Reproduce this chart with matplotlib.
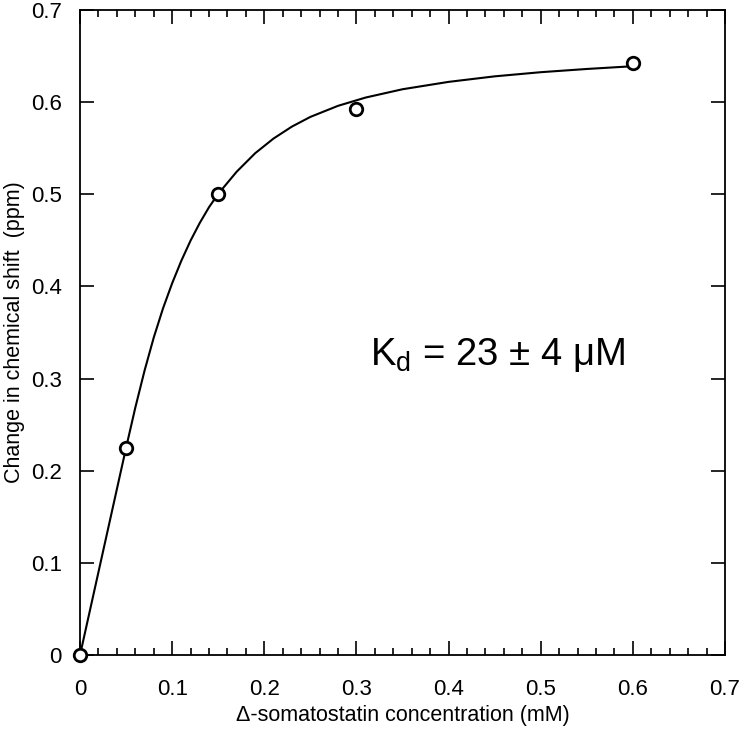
import matplotlib
matplotlib.use("Agg")
import matplotlib.pyplot as plt
from matplotlib.ticker import MultipleLocator

plt.rcParams['font.family'] = ['Liberation Sans', 'DejaVu Sans']

# measured titration points
conc = [0.0, 0.05, 0.15, 0.30, 0.60]
shift = [0.0, 0.225, 0.500, 0.593, 0.643]

# fitted curve
fit_x = [0.0, 0.01, 0.02, 0.03, 0.04, 0.05, 0.06, 0.07, 0.08, 0.09, 0.10,
         0.11, 0.12, 0.13, 0.14, 0.15, 0.17, 0.19, 0.21, 0.23, 0.25, 0.28,
         0.31, 0.35, 0.40, 0.45, 0.50, 0.55, 0.60]
fit_y = [0.0, 0.045, 0.090, 0.135, 0.180, 0.225, 0.2685, 0.3085, 0.3445,
         0.376, 0.4035, 0.428, 0.4498, 0.469, 0.486, 0.5005, 0.5245, 0.5445,
         0.5605, 0.5735, 0.584, 0.596, 0.605, 0.614, 0.622, 0.628, 0.6325,
         0.636, 0.639]

fig = plt.figure(figsize=(7.43, 7.30), dpi=100)
ax = fig.add_axes([0.1077, 0.1027, 0.8681, 0.8836])

ax.plot(fit_x, fit_y, color='black', lw=1.5, zorder=2)
ax.plot(conc, shift, 'o', mfc='white', mec='black', mew=2, ms=9,
        clip_on=False, zorder=3)

ax.set_xlim(0, 0.7)
ax.set_ylim(0, 0.7)
ax.xaxis.set_major_locator(MultipleLocator(0.1))
ax.xaxis.set_minor_locator(MultipleLocator(0.02))
ax.yaxis.set_major_locator(MultipleLocator(0.1))
ax.xaxis.set_major_formatter(plt.FuncFormatter(lambda v, p: f"{v:g}"))
ax.yaxis.set_major_formatter(plt.FuncFormatter(lambda v, p: f"{v:g}"))

ax.tick_params(which='both', direction='in', top=True, right=True,
               labelsize=16, width=1.2)
ax.tick_params(which='major', length=10)
ax.tick_params(which='minor', length=5)
ax.tick_params(axis='x', which='major', pad=17)
ax.tick_params(axis='y', which='major', pad=13)
for s in ax.spines.values():
    s.set_linewidth(1.3)

ax.set_xlabel('Δ-somatostatin concentration (mM)', fontsize=15.5, labelpad=4)
ax.set_ylabel('Change in chemical shift  (ppm)', fontsize=15.5, labelpad=4)

ax.text(0.315, 0.315, r'K$_\mathregular{d}$ = 23 ± 4 μM', fontsize=27.5,
        transform=ax.transData)

fig.savefig('out.png', dpi=100)
